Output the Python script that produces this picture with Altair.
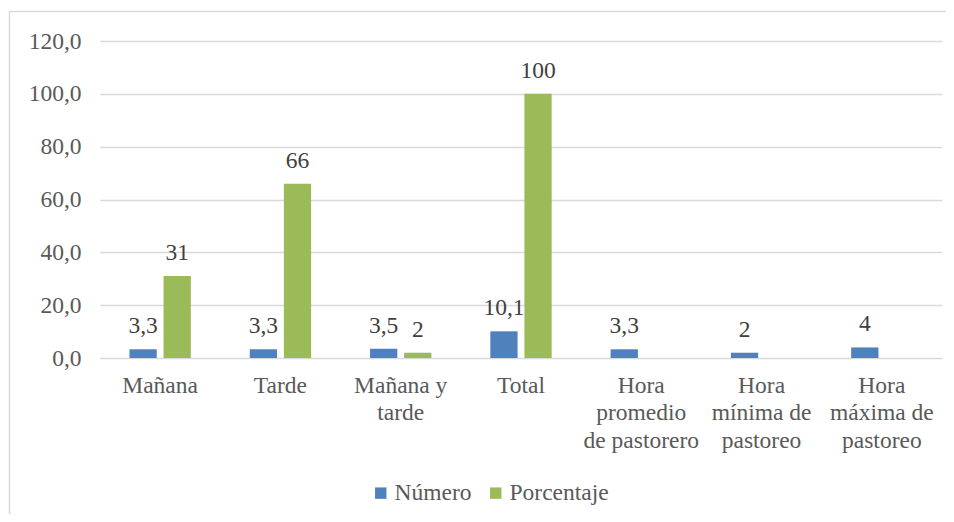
import altair as alt
import pandas as pd

categories = ["Mañana", "Tarde", "Mañana y tarde", "Total",
              "Hora promedio de pastorero", "Hora mínima de pastoreo",
              "Hora máxima de pastoreo"]
wrapped = ["Mañana", "Tarde", "Mañana y|tarde", "Total",
           "Hora|promedio|de pastorero", "Hora|mínima de|pastoreo",
           "Hora|máxima de|pastoreo"]
numero = [3.3, 3.3, 3.5, 10.1, 3.3, 2, 4]
numero_labels = ["3,3", "3,3", "3,5", "10,1", "3,3", "2", "4"]
porcentaje = [31, 66, 2, 100, None, None, None]
porcentaje_labels = ["31", "66", "2", "100", "", "", ""]
series = ["Número", "Porcentaje"]
colors = ["#4f81bd", "#9bbb59"]
y_ticks = [0, 20, 40, 60, 80, 100, 120]

rows = []
for i, c in enumerate(categories):
    rows.append({"cat": c, "serie": series[0], "value": numero[i], "label": numero_labels[i]})
    if porcentaje[i] is not None:
        rows.append({"cat": c, "serie": series[1], "value": porcentaje[i], "label": porcentaje_labels[i]})
df = pd.DataFrame(rows)

label_map = "{" + ",".join(f"'{c}':'{w}'" for c, w in zip(categories, wrapped)) + "}"

FONT = "'Liberation Serif', 'Times New Roman', serif"
GRAY = "#595959"
FS = 23.5

x_enc = alt.X("cat:N", sort=categories, title=None,
              scale=alt.Scale(paddingInner=0.49, paddingOuter=0.245),
              axis=alt.Axis(labelExpr=f"split({label_map}[datum.label], '|')",
                            labelAngle=0, labelFontSize=FS, labelColor=GRAY,
                            labelFont=FONT, labelLineHeight=27.5, labelPadding=15,
                            ticks=False, domain=True, domainColor="#d9d9d9",
                            labelBaseline="top"))
xoff = alt.XOffset("serie:N", scale=alt.Scale(domain=series, paddingInner=0.2))
y_enc = alt.Y("value:Q", title=None,
              scale=alt.Scale(domain=[0, 120]),
              axis=alt.Axis(values=y_ticks, labelExpr="replace(format(datum.value, '.1f'), '.', ',')",
                            labelFontSize=FS, labelColor=GRAY, labelFont=FONT,
                            labelPadding=19, ticks=False, domain=False,
                            gridColor="#d9d9d9", gridWidth=1.5))

bars = alt.Chart(df).mark_bar().encode(
    x=x_enc, xOffset=xoff, y=y_enc,
    color=alt.Color("serie:N", scale=alt.Scale(domain=series, range=colors),
                    legend=alt.Legend(title=None, orient="none", legendX=269, legendY=440,
                                      direction="horizontal", symbolType="square",
                                      symbolSize=130, labelFontSize=FS, labelFont=FONT,
                                      labelColor=GRAY, columnPadding=12, labelOffset=2,
                                      symbolStrokeWidth=0))
)

text = alt.Chart(df).mark_text(baseline="middle", dy=-23, fontSize=FS, font=FONT, color="#404040").encode(
    x=alt.X("cat:N", sort=categories), xOffset=xoff, y="value:Q", text="label:N"
)

frame = alt.Chart(pd.DataFrame({"a": [0]})).mark_rect(fill="transparent", stroke="#d9d9d9", strokeWidth=1.5).encode(
    x=alt.value(-90.5), x2=alt.value(880), y=alt.value(-29.5), y2=alt.value(520)
)

chart = alt.layer(frame, bars, text).properties(
    width=842, height=317,
    autosize=alt.AutoSizeParams(type="none"),
    padding={"left": 92, "top": 33, "right": 4, "bottom": 156}
).configure_view(stroke=None)

chart.save("out.html", embed_options={"renderer": "svg", "actions": False})
